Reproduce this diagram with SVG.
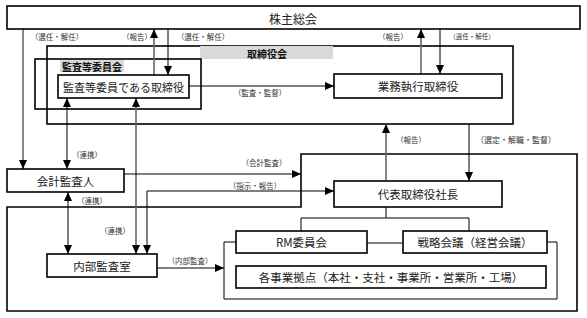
<svg xmlns="http://www.w3.org/2000/svg" width="587" height="318" viewBox="0 0 587 318">
<style>
.box{fill:#fff;stroke:#000;stroke-width:1.6}
.frame{fill:none;stroke:#000;stroke-width:1.6}
.t{font-family:"Noto Sans CJK JP","Noto Sans",sans-serif;font-size:11.5px;fill:#222;text-anchor:middle;dominant-baseline:central}
.hd{font-family:"Noto Sans CJK JP","Noto Sans",sans-serif;font-size:10px;font-weight:bold;fill:#111;text-anchor:middle;dominant-baseline:central}
.lb{font-family:"Noto Sans CJK JP","Noto Sans",sans-serif;font-size:7.5px;fill:#333;text-anchor:middle;dominant-baseline:central}
.c{fill:none;stroke:#000;stroke-width:1}
.g{fill:none;stroke:#666;stroke-width:1.6}
.ah{marker-end:url(#arr)}
.ab{marker-start:url(#arr);marker-end:url(#arr)}
</style>
<defs>
<marker id="arr" markerUnits="userSpaceOnUse" markerWidth="9" markerHeight="8" viewBox="0 0 9 8" refX="9" refY="4" orient="auto-start-reverse">
<path d="M0,0 L9,4 L0,8 z" fill="#000"/>
</marker>
</defs>
<rect width="587" height="318" fill="#fff"/>

<g id="frames">
<rect class="frame" x="47" y="46" width="466" height="78"/>
<rect x="200" y="46" width="133" height="13" fill="#d9d9d9"/>
<text class="hd" x="267" y="53">取締役会</text>
<rect class="frame" x="35" y="59" width="166" height="50"/>
<rect x="60" y="60" width="64" height="12" fill="#d9d9d9"/>
<text class="hd" x="92" y="66">監査等委員会</text>
<polygon class="frame" points="301,154 577,154 577,311 7,311 7,207 301,207"/>
</g>

<g id="connectors">
<path class="g ah" d="M23,29 V169"/>
<path class="g ah" d="M154,75 V29"/>
<path class="c ah" d="M168,29 V75"/>
<path class="c ah" d="M189,86 H334"/>
<path class="g ah" d="M421,74 V29"/>
<path class="c ah" d="M440,29 V74"/>
<path class="c ab" d="M67,98 V169"/>
<path class="g ab" d="M136,98 V254"/>
<path class="c ah" d="M124,174 H301"/>
<path class="c ab" d="M147,254 V191 H334"/>
<path class="g ah" d="M386,181 V124"/>
<path class="c ah" d="M469,124 V181"/>
<path class="c ab" d="M68,192 V254"/>
<path class="c" d="M386,207 V218 M301,231 V218 H469 V231"/>
<path class="c" d="M367,243 H403"/>
<path class="c" d="M236,242 H224 V299 H557 V242 H547"/>
<path class="c ah" d="M157,268 H224"/>
</g>

<g id="labels">
<text class="lb" x="57" y="36">（選任・解任）</text>
<text class="lb" x="137" y="36">（報告）</text>
<text class="lb" x="203" y="36">（選任・解任）</text>
<text class="lb" x="393" y="36">（報告）</text>
<text class="lb" x="472" y="36" style="font-size:6.5px">（選任・解任）</text>
<text class="lb" x="260" y="92">（監査・監督）</text>
<text class="lb" x="87" y="154">（連携）</text>
<text class="lb" x="264" y="162">（会計監査）</text>
<text class="lb" x="255" y="185">（指示・報告）</text>
<text class="lb" x="92" y="200">（連携）</text>
<text class="lb" x="411" y="139">（報告）</text>
<text class="lb" x="516" y="139" style="font-size:8px">（選定・解職・監督）</text>
<text class="lb" x="115" y="230">（連携）</text>
<text class="lb" x="190" y="260">（内部監査）</text>
</g>

<g id="n-shareholders"><rect class="box" x="7" y="6" width="573" height="23"/><text class="t" x="293" y="18" style="font-size:12px">株主総会</text></g>
<g id="n-audit-director"><rect class="box" x="58" y="75" width="131" height="23"/><text class="t" x="123.5" y="86.5" style="font-size:11px">監査等委員である取締役</text></g>
<g id="n-exec-director"><rect class="box" x="334" y="74" width="168" height="24"/><text class="t" x="418" y="86">業務執行取締役</text></g>
<g id="n-accounting-auditor"><rect class="box" x="7" y="169" width="117" height="23"/><text class="t" x="65.5" y="180.5">会計監査人</text></g>
<g id="n-president"><rect class="box" x="334" y="181" width="168" height="26"/><text class="t" x="418" y="194">代表取締役社長</text></g>
<g id="n-rm"><rect class="box" x="236" y="231" width="131" height="22"/><text class="t" x="301.5" y="242">RM委員会</text></g>
<g id="n-strategy"><rect class="box" x="403" y="231" width="144" height="22"/><text class="t" x="475" y="242">戦略会議（経営会議）</text></g>
<g id="n-sites"><rect class="box" x="236" y="266" width="310" height="22"/><text class="t" x="391" y="277">各事業拠点（本社・支社・事業所・営業所・工場）</text></g>
<g id="n-internal-audit"><rect class="box" x="47" y="254" width="110" height="23"/><text class="t" x="102" y="265.5">内部監査室</text></g>
</svg>
